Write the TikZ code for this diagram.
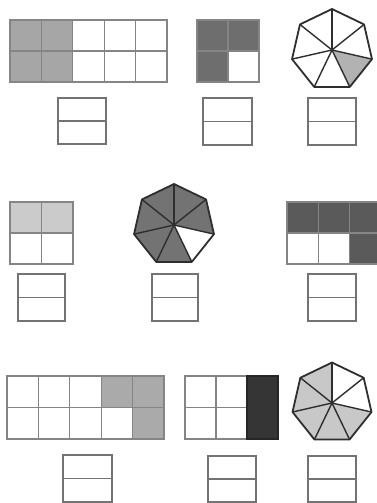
\documentclass[tikz,border=0pt]{standalone}
\definecolor{gA}{HTML}{A6A6A6}
\definecolor{gB}{HTML}{6E6E6E}
\definecolor{gC}{HTML}{B2B2B2}
\definecolor{gD}{HTML}{CBCBCB}
\definecolor{gE}{HTML}{737373}
\definecolor{gF}{HTML}{5A5A5A}
\definecolor{gG}{HTML}{AAAAAA}
\definecolor{gH}{HTML}{353535}
\definecolor{gI}{HTML}{C8C8C8}
\tikzset{
  gridline/.style={draw=black!48, line width=1.1pt},
  heptline/.style={draw=black!82, line width=1.4pt, line join=round},
  ansbox/.style={draw=black!55, line width=1.2pt},
}
\newcommand{\fgrid}[6]{% x0 y0 x1 y1 cols rows
  \draw[gridline] (#1,#2) rectangle (#3,#4);
  \foreach \i in {1,...,#5} {\draw[gridline] ({#1+\i*(#3-#1)/#5},#2) -- ({#1+\i*(#3-#1)/#5},#4);}
  \foreach \j in {1,...,#6} {\draw[gridline] (#1,{#2+\j*(#4-#2)/#6}) -- (#3,{#2+\j*(#4-#2)/#6});}
}
\newcommand{\hept}[4]{% cx cy r colours
  \begin{scope}[shift={(#1,#2)}]
  \foreach \c [count=\k from 0] in {#4} {
    \fill[\c] (0,0) -- ({-90+\k*360/7}:#3) -- ({-90+(\k+1)*360/7}:#3) -- cycle;
  }
  \foreach \k in {0,...,6} {\draw[heptline] (0,0) -- ({-90+\k*360/7}:#3);}
  \draw[heptline, line width=1.8pt] (-90:#3) \foreach \k in {1,...,6}{ -- ({-90+\k*360/7}:#3)} -- cycle;
  \end{scope}
}
\newcommand{\answer}[4]{%
  \draw[ansbox] (#1,#2) rectangle (#3,#4);
  \draw[ansbox] (#1,{(#2+#4)/2}) -- (#3,{(#2+#4)/2});
}
\begin{document}
\begin{tikzpicture}[x=1pt,y=-1pt]
\useasboundingbox (0,0) rectangle (377,503);
\fill[white] (0,0) rectangle (377,503);
% Row 1
\fill[gA] (10,20) rectangle (72.8,82);
\fgrid{10}{20}{167}{82}{5}{2}
\answer{58}{98}{106}{144}
\fill[gB] (197,20) rectangle (259,51);
\fill[gB] (197,51) rectangle (228,82);
\fgrid{197}{20}{259}{82}{2}{2}
\answer{203}{98}{252}{145}
\hept{332}{50}{41}{white,white,gC,white,white,white,white}
\answer{308}{98}{356}{145}
% Row 2
\fill[gD] (10,202) rectangle (73,233);
\fgrid{10}{202}{73}{264}{2}{2}
\answer{18}{274}{65}{321}
\hept{174}{225}{41}{gE,gE,white,gE,gE,gE,gE}
\answer{152}{274}{198}{321}
\fill[gF] (287,202) rectangle (381,233);
\fill[gF] (349.6,233) rectangle (381,264);
\fgrid{287}{202}{381}{264}{3}{2}
\answer{308}{274}{356}{321}
% Row 3
\fill[gG] (101.2,376) rectangle (164,407.5);
\fill[gG] (132.6,407.5) rectangle (164,439);
\fgrid{7}{376}{164}{439}{5}{2}
\answer{63}{455}{112}{502}
\fgrid{185}{376}{278}{439}{3}{2}
\fill[gH, draw=black!85, line width=1.1pt] (247,376) rectangle (278,439);
\answer{208}{456}{256}{502}
\hept{332}{403}{40.5}{white,white,gI,gI,gI,gI,gI}
\answer{308}{456}{356}{502}
\end{tikzpicture}
\end{document}
